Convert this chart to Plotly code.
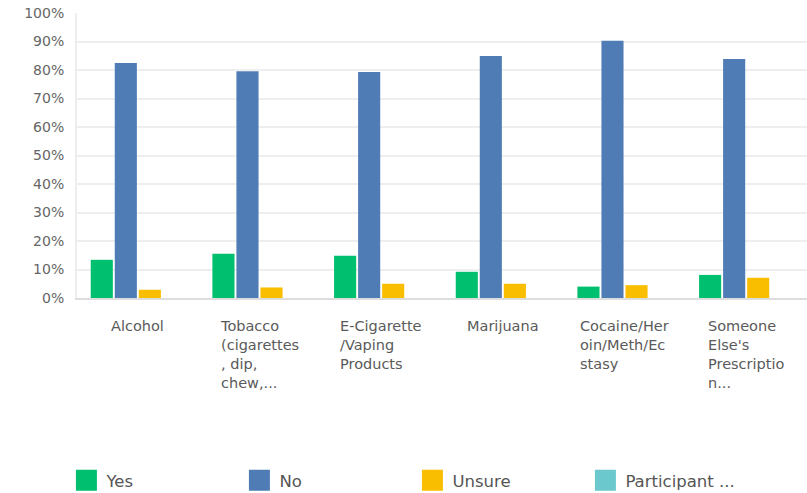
import plotly.graph_objects as go

categories = ["Alcohol", "Tobacco (cigarettes, dip, chew,...", "E-Cigarette/Vaping Products",
              "Marijuana", "Cocaine/Heroin/Meth/Ecstasy", "Someone Else's Prescription..."]
category_labels = ["Alcohol", "Tobacco<br>(cigarettes<br>, dip,<br>chew,...",
                   "E-Cigarette<br>/Vaping<br>Products", "Marijuana",
                   "Cocaine/Her<br>oin/Meth/Ec<br>stasy", "Someone<br>Else's<br>Prescriptio<br>n..."]
yes_vals = [13.4, 15.5, 14.8, 9.2, 4.0, 8.1]
no_vals = [82.5, 79.6, 79.3, 84.9, 90.3, 83.9]
unsure_vals = [2.9, 3.7, 5.0, 5.0, 4.5, 7.1]
participant_vals = [0, 0, 0, 0, 0, 0]
series_names = ["Yes", "No", "Unsure", "Participant ..."]
series_colors = ["#00BF6F", "#507CB6", "#F9BE00", "#6BC8CD"]
tick_vals = [0, 10, 20, 30, 40, 50, 60, 70, 80, 90, 100]
tick_text = [f"{v}%" for v in tick_vals]

fig = go.Figure()
for name, vals, col in zip(series_names, [yes_vals, no_vals, unsure_vals, participant_vals], series_colors):
    fig.add_trace(go.Bar(x=categories, y=vals, name=name, showlegend=False,
                         marker=dict(color=col, line=dict(width=0))))
# legend entries with larger square symbols
for name, col in zip(series_names, series_colors):
    fig.add_trace(go.Scatter(x=[None], y=[None], mode="markers", name=name,
                             marker=dict(symbol="square", size=16, color=col,
                                         line=dict(width=5, color=col))))

for cat, lab in zip(categories, category_labels):
    fig.add_annotation(x=cat, xref="x", y=0, yref="paper", yanchor="top", xanchor="center",
                       yshift=-18, text=lab, align="left", showarrow=False,
                       font=dict(family="DejaVu Sans", size=14.5, color="#5a5a5a"))

fig.update_layout(
    width=807, height=493,
    margin=dict(l=77, r=0, t=13, b=195, autoexpand=False),
    plot_bgcolor="white", paper_bgcolor="white",
    barmode="group", bargap=0.21, bargroupgap=0.08,
    showlegend=True,
    legend=dict(orientation="h", x=-0.0145, xanchor="left", y=-0.64, yanchor="middle",
                entrywidth=128, entrywidthmode="pixels", traceorder="normal",
                font=dict(family="DejaVu Sans", size=16.5, color="#555555")),
    xaxis=dict(showticklabels=False, showline=True, linecolor="#dddddd", linewidth=2,
               showgrid=False, ticks=""),
    yaxis=dict(range=[0, 100], tickvals=tick_vals, ticktext=tick_text,
               showgrid=True, gridcolor="#eeeeee", gridwidth=2,
               showline=True, linecolor="#eeeeee", linewidth=2, zeroline=False,
               ticks="", ticklabelstandoff=8,
               tickfont=dict(family="DejaVu Sans", size=14, color="#666666")),
)

fig.write_html("out.html", config={"displayModeBar": False},
               post_script="document.body.style.margin='0';")
